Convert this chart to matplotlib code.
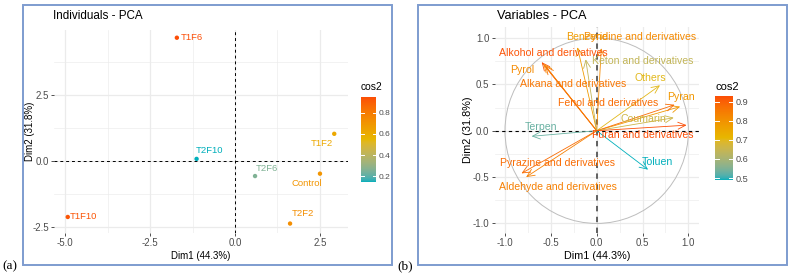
import numpy as np
import matplotlib
matplotlib.use("Agg")
import matplotlib.pyplot as plt
from matplotlib.colors import ListedColormap, Normalize, to_rgb
from matplotlib.patches import Rectangle, Circle

plt.rcParams['font.family'] = ['Liberation Sans', 'DejaVu Sans']

# ---------------- data ----------------
ind_names = ["T1F6", "T1F10", "T2F10", "T2F6", "T1F2", "Control", "T2F2"]
ind_x = [-1.71, -4.92, -1.13, 0.59, 2.92, 2.50, 1.62]
ind_y = [4.67, -2.12, 0.08, -0.57, 1.03, -0.48, -2.37]
ind_cos2 = [0.95, 0.93, 0.15, 0.26, 0.62, 0.70, 0.73]
ind_lab_x = [-1.26, -4.45, -0.74, 0.94, 2.56, 2.12, 1.99]
ind_lab_y = [4.67, -2.12, 0.39, -0.30, 0.67, -0.86, -1.98]

var_names = ["Alkohol and derivatives", "Pyrol", "Alkana and derivatives", "Benzene",
             "Pyridine and derivatives", "Keton and derivatives", "Others", "Pyran",
             "Fenol and derivatives", "Coumarin", "Furan and derivatives", "Terpen",
             "Toluen", "Pyrazine and derivatives", "Aldehyde and derivatives"]
var_x = [-0.60, -0.58, -0.56, -0.21, 0.05, -0.12, 0.69, 0.91, 0.85, 0.84, 0.98, -0.71, 0.56, -0.82, -0.77]
var_y = [0.74, 0.72, 0.70, 0.90, 0.89, 0.77, 0.49, 0.26, 0.28, 0.14, 0.06, -0.06, -0.42, -0.46, -0.50]
var_cos2 = [0.92, 0.82, 0.86, 0.78, 0.82, 0.64, 0.70, 0.79, 0.88, 0.66, 0.93, 0.53, 0.49, 0.88, 0.84]
var_lab_x = [-0.47, -0.81, -0.26, -0.11, 0.47, 0.50, 0.58, 0.92, 0.13, 0.51, 0.50, -0.61, 0.66, -0.43, -0.42]
var_lab_y = [0.84, 0.66, 0.50, 1.01, 1.01, 0.75, 0.57, 0.36, 0.30, 0.13, -0.05, 0.04, -0.34, -0.35, -0.61]

ind_ticks_x = [-5.0, -2.5, 0.0, 2.5]
ind_ticks_y = [-2.5, 0.0, 2.5]
var_ticks = [-1.0, -0.5, 0.0, 0.5, 1.0]

# --------------- colour scale (Lab interpolation like ggplot) ---------------
def _srgb_to_lin(c):
    c = np.asarray(c)
    return np.where(c <= 0.04045, c / 12.92, ((c + 0.055) / 1.055) ** 2.4)


def _lin_to_srgb(c):
    c = np.clip(c, 0, 1)
    return np.where(c <= 0.0031308, 12.92 * c, 1.055 * c ** (1 / 2.4) - 0.055)


_M = np.array([[0.4124, 0.3576, 0.1805], [0.2126, 0.7152, 0.0722], [0.0193, 0.1192, 0.9505]])
_Mi = np.linalg.inv(_M)
_WP = np.array([0.95047, 1.0, 1.08883])


def _f(t):
    return np.where(t > (6 / 29) ** 3, np.cbrt(t), t / (3 * (6 / 29) ** 2) + 4 / 29)


def _finv(t):
    return np.where(t > 6 / 29, t ** 3, 3 * (6 / 29) ** 2 * (t - 4 / 29))


def rgb2lab(rgb):
    xyz = _M @ _srgb_to_lin(rgb) / _WP
    fx_, fy_, fz_ = _f(xyz)
    return np.array([116 * fy_ - 16, 500 * (fx_ - fy_), 200 * (fy_ - fz_)])


def lab2rgb(lab):
    L, a, b = lab
    fy_ = (L + 16) / 116
    xyz = np.array([_finv(fy_ + a / 500), _finv(fy_), _finv(fy_ - b / 200)]) * _WP
    return _lin_to_srgb(_Mi @ xyz)


stops = [rgb2lab(to_rgb(c)) for c in ["#00AFBB", "#E7B800", "#FC4E07"]]
cm_list = []
for t in np.linspace(0, 1, 256):
    if t <= 0.5:
        u = t / 0.5
        lab = stops[0] * (1 - u) + stops[1] * u
    else:
        u = (t - 0.5) / 0.5
        lab = stops[1] * (1 - u) + stops[2] * u
    cm_list.append(lab2rgb(lab))
cmap = ListedColormap(np.clip(np.array(cm_list), 0, 1))

# --------------- styling ---------------
W, H = 793, 276
fig = plt.figure(figsize=(W / 100, H / 100), dpi=100)
GRID = "#EBEBEB"
BORDER = "#7E9CCF"


def px_rect(l, t, r, b):
    return [l / W, 1 - b / H, (r - l) / W, (b - t) / H]


def fx(x):
    return x / W


def fy(y):
    return 1 - y / H


def style_axes(ax, xt, yt, xlim, ylim):
    ax.set_xlim(*xlim)
    ax.set_ylim(*ylim)
    ax.set_facecolor("white")
    for s in ax.spines.values():
        s.set_visible(False)
    ax.set_xticks(xt)
    ax.set_yticks(yt)
    ax.set_xticklabels([f"{v:.1f}" for v in xt])
    ax.set_yticklabels([f"{v:.1f}" for v in yt])
    dx = (xt[1] - xt[0]) / 2
    dy = (yt[1] - yt[0]) / 2
    mx = np.arange(xt[0] - dx, xt[-1] + 2 * dx, 2 * dx)
    my = np.arange(yt[0] - dy, yt[-1] + 2 * dy, 2 * dy)
    ax.set_xticks([m for m in mx if xlim[0] < m < xlim[1]], minor=True)
    ax.set_yticks([m for m in my if ylim[0] < m < ylim[1]], minor=True)
    ax.grid(True, which="major", color=GRID, lw=0.9)
    ax.grid(True, which="minor", color=GRID, lw=0.45)
    ax.set_axisbelow(True)
    ax.tick_params(which="major", length=2.5, width=0.6, color="#333333", pad=1.5,
                   labelsize=7, labelcolor="#4D4D4D")
    ax.tick_params(which="minor", length=0)


def colorbar(rect, vmin, vmax, ticks, title, title_xy, fs_tick, fs_title):
    cax = fig.add_axes(px_rect(*rect))
    grad = np.linspace(vmin, vmax, 256).reshape(-1, 1)
    cax.imshow(grad, aspect="auto", cmap=cmap, origin="lower",
               extent=[0, 1, vmin, vmax], norm=Normalize(vmin, vmax))
    cax.set_xlim(0, 1)
    cax.set_ylim(vmin, vmax)
    cax.set_xticks([])
    cax.yaxis.tick_right()
    cax.set_yticks(ticks)
    cax.set_yticklabels([f"{t:.1f}" for t in ticks])
    cax.tick_params(axis="y", length=0, pad=2, labelsize=fs_tick, labelcolor="#4D4D4D")
    for s in cax.spines.values():
        s.set_visible(False)
    for t in ticks:
        cax.plot([0, 0.2], [t, t], color="white", lw=0.7)
        cax.plot([0.8, 1], [t, t], color="white", lw=0.7)
    fig.text(fx(title_xy[0]), fy(title_xy[1]), title, fontsize=fs_title,
             ha="left", va="center", color="black")


# --------------- panel boxes ---------------
for l, t, r, b in [(22.7, 5.3, 391.7, 265), (417.7, 5.3, 786.7, 265)]:
    fig.patches.append(Rectangle((fx(l), fy(b)), (r - l) / W, (b - t) / H,
                                 transform=fig.transFigure, fill=False,
                                 edgecolor=BORDER, lw=1.4))
fig.text(fx(2), fy(266), "(a)", family="Liberation Serif", fontsize=9.5,
         ha="left", va="center")
fig.text(fx(397), fy(266), "(b)", family="Liberation Serif", fontsize=9.5,
         ha="left", va="center")

# --------------- left panel: individuals ---------------
ax1 = fig.add_axes(px_rect(54.5, 29.8, 347.5, 232.8))
style_axes(ax1, ind_ticks_x, ind_ticks_y, (-5.31, 3.31), (-2.72, 4.97))
ax1.axhline(0, color="black", lw=0.7, ls=(0, (3, 3)), zorder=2)
ax1.axvline(0, color="black", lw=0.7, ls=(0, (3, 3)), zorder=2)
n1 = Normalize(min(ind_cos2), max(ind_cos2))
cols1 = cmap(n1(np.array(ind_cos2)))
ax1.scatter(ind_x, ind_y, s=10, c=cols1, zorder=3, linewidths=0)
for nm, lx, ly, c in zip(ind_names, ind_lab_x, ind_lab_y, cols1):
    ax1.text(lx, ly, nm, color=c, fontsize=6.8, ha="center", va="center", zorder=4)
fig.text(fx(53), fy(16), "Individuals - PCA", fontsize=8.4, ha="left", va="center")
fig.text(fx(201), fy(256), "Dim1 (44.3%)", fontsize=7, ha="center", va="center",
         color="black")
fig.text(fx(30), fy(131), "Dim2 (31.8%)", fontsize=7, ha="center", va="center",
         rotation=90, color="black")
colorbar((361, 96.7, 375.7, 181.7), min(ind_cos2), max(ind_cos2), [0.2, 0.4, 0.6, 0.8],
         "cos2", (361, 87), 6, 7.4)

# --------------- right panel: variables ---------------
ax2 = fig.add_axes(px_rect(494.9, 26.9, 698.5, 232.7))
style_axes(ax2, var_ticks, var_ticks, (-1.11, 1.11), (-1.10, 1.12))
ax2.add_patch(Circle((0, 0), 1.0, fill=False, edgecolor="#BDBDBD", lw=0.7, zorder=1))
ax2.axhline(0, color="black", lw=0.8, ls=(0, (3, 3)), zorder=2)
ax2.axvline(0, color="#555555", lw=1.3, ls=(0, (3, 3)), zorder=2)
n2 = Normalize(min(var_cos2), max(var_cos2))
cols2 = cmap(n2(np.array(var_cos2)))
for x, y, c in zip(var_x, var_y, cols2):
    ax2.annotate("", xy=(x, y), xytext=(0, 0),
                 arrowprops=dict(arrowstyle="->,head_length=0.55,head_width=0.25",
                                 color=c, lw=0.6, shrinkA=0, shrinkB=0), zorder=3)
for nm, lx, ly, c in zip(var_names, var_lab_x, var_lab_y, cols2):
    ax2.text(lx, ly, nm, color=c, fontsize=7.6, ha="center", va="center", zorder=4)
fig.text(fx(496.7), fy(16), "Variables - PCA", fontsize=9.2, ha="left", va="center")
fig.text(fx(597), fy(256), "Dim1 (44.3%)", fontsize=7.8, ha="center", va="center",
         color="black")
fig.text(fx(468), fy(130), "Dim2 (31.8%)", fontsize=7.8, ha="center", va="center",
         rotation=90, color="black")
colorbar((715, 96, 732.7, 180), min(var_cos2), max(var_cos2), [0.5, 0.6, 0.7, 0.8, 0.9],
         "cos2", (715, 87), 6.6, 8)

fig.savefig("out.png", dpi=100)
